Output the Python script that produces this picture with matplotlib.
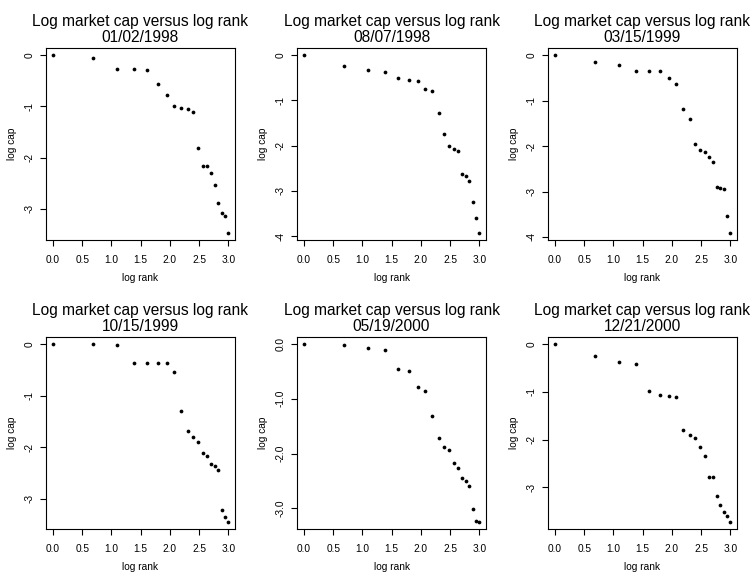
import matplotlib
matplotlib.use("Agg")
import matplotlib.pyplot as plt

log_rank = [0.000, 0.693, 1.099, 1.386, 1.609, 1.792, 1.946, 2.079, 2.197, 2.303,
            2.398, 2.485, 2.565, 2.639, 2.708, 2.773, 2.833, 2.890, 2.944, 2.996]

dates = ["01/02/1998", "08/07/1998", "03/15/1999", "10/15/1999", "05/19/2000", "12/21/2000"]

cap_19980102 = [0, -0.05, -0.27, -0.27, -0.30, -0.56, -0.78, -0.99, -1.04, -1.05,
                -1.12, -1.82, -2.16, -2.16, -2.31, -2.53, -2.89, -3.08, -3.14, -3.47]
cap_19980807 = [0, -0.23, -0.34, -0.38, -0.51, -0.54, -0.57, -0.74, -0.79, -1.28,
                -1.75, -2.02, -2.07, -2.12, -2.62, -2.68, -2.79, -3.25, -3.61, -3.93]
cap_19990315 = [0, -0.15, -0.21, -0.34, -0.35, -0.36, -0.50, -0.63, -1.19, -1.41,
                -1.95, -2.08, -2.12, -2.23, -2.35, -2.91, -2.92, -2.95, -3.54, -3.91]
cap_19991015 = [0, 0, -0.01, -0.36, -0.36, -0.36, -0.37, -0.54, -1.29, -1.69,
                -1.80, -1.89, -2.11, -2.17, -2.33, -2.37, -2.45, -3.21, -3.36, -3.45]
cap_20000519 = [0, -0.01, -0.07, -0.10, -0.45, -0.49, -0.79, -0.86, -1.32, -1.72,
                -1.89, -1.93, -2.18, -2.26, -2.45, -2.51, -2.59, -3.01, -3.23, -3.25]
cap_20001221 = [0, -0.25, -0.38, -0.41, -0.99, -1.07, -1.09, -1.11, -1.79, -1.91,
                -1.96, -2.16, -2.35, -2.79, -2.79, -3.17, -3.36, -3.52, -3.60, -3.72]

series = [cap_19980102, cap_19980807, cap_19990315, cap_19991015, cap_20000519, cap_20001221]
yticks = [[0, -1, -2, -3], [0, -1, -2, -3, -4], [0, -1, -2, -3, -4],
          [0, -1, -2, -3], [0.0, -1.0, -2.0, -3.0], [0, -1, -2, -3]]
yfmt = ["int", "int", "int", "int", "float", "int"]
xticks = [0.0, 0.5, 1.0, 1.5, 2.0, 2.5, 3.0]

plt.rcParams['font.family'] = ['Liberation Sans', 'DejaVu Sans']
W, H = 752, 574
fig = plt.figure(figsize=(W / 100, H / 100), dpi=100)

lefts = [46, 297, 548]
tops = [48, 337]
aw, ah = 189, 192

for i, (ys, d) in enumerate(zip(series, dates)):
    r, c = divmod(i, 3)
    ax = fig.add_axes([lefts[c] / W, 1 - (tops[r] + ah) / H, aw / W, ah / H])
    ax.plot(log_rank, ys, 'o', color='black', markersize=2.7, markeredgewidth=0)
    x0, x1 = min(log_rank), max(log_rank)
    y0, y1 = min(ys), max(ys)
    px = 0.04 * (x1 - x0)
    py = 0.04 * (y1 - y0)
    ax.set_xlim(x0 - px, x1 + px)
    ax.set_ylim(y0 - py, y1 + py)
    ax.set_xticks(xticks)
    ax.set_xticklabels(["{:.1f}".format(t) for t in xticks])
    ax.set_yticks(yticks[i])
    if yfmt[i] == "int":
        labs = ["{:d}".format(int(t)) for t in yticks[i]]
    else:
        labs = ["{:.1f}".format(t) for t in yticks[i]]
    ax.set_yticklabels(labs, rotation=90, va='center')
    ax.tick_params(direction='out', length=4, width=0.8, labelsize=7.3)
    ax.tick_params(axis='x', pad=6.5)
    ax.tick_params(axis='y', pad=4.5)
    for s in ax.spines.values():
        s.set_linewidth(0.8)
    ax.set_xlabel("log rank", fontsize=7.3, labelpad=6.2)
    ax.set_ylabel("log cap", fontsize=7.3, labelpad=5)
    ax.set_title("Log market cap versus log rank\n" + d, fontsize=11.2, pad=4.5,
                 linespacing=1.03)

fig.savefig("out.png", dpi=100)
